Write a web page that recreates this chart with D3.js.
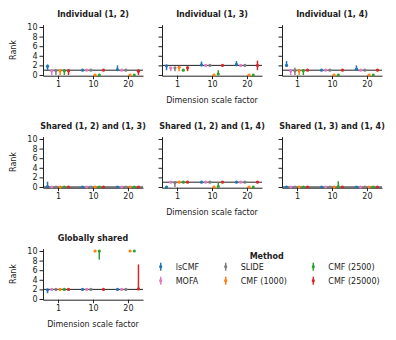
<!DOCTYPE html>
<html><head><meta charset="utf-8">
<script src="https://cdn.jsdelivr.net/npm/d3@7"></script>
<style>body{margin:0;background:#fff} text{font-family:"DejaVu Sans",sans-serif;fill:#222}</style>
</head><body><svg id="c" width="396" height="340"></svg>
<script>
const categories = ["1", "10", "20"];
const methods = ["lsCMF", "MOFA", "SLIDE", "CMF (1000)", "CMF (2500)", "CMF (25000)"];
const colors = ["#1f77b4", "#e377c2", "#7f7f7f", "#ff7f0e", "#2ca02c", "#d62728"];
const panelTitles = ["Individual (1, 2)", "Individual (1, 3)", "Individual (1, 4)",
  "Shared (1, 2) and (1, 3)", "Shared (1, 2) and (1, 4)", "Shared (1, 3) and (1, 4)", "Globally shared"];
const trueRanks = [1, 2, 1, 0, 1, 0, 2];
const yTicks = [0, 2, 4, 6, 8, 10];

// rows: methods, columns: categories
const ind12Mean = [[1.8,1,1.1],[0.9,1,1],[0.9,1,1],[0.9,0,0],[0.9,0,0],[0.9,1,0.8]];
const ind12Lo   = [[1.0,1,0.9],[0,1,1],[0,1,1],[0,0,0],[0,0,0],[0,1,0]];
const ind12Hi   = [[2.2,1,2.0],[1,1,1],[1,1,1],[1,0,0],[1,0,0],[1,1,1.2]];

const ind13Mean = [[1.9,2.1,2.2],[1.5,2,2],[1.5,2,2],[1.6,0,0],[1.0,0.2,0],[1.5,2,2]];
const ind13Lo   = [[1.0,1.8,1.8],[0.8,2,2],[0.8,2,2],[0.8,0,0],[1.0,0,0],[0.8,2,1.0]];
const ind13Hi   = [[2.1,2.8,2.9],[1.6,2,2],[1.6,2,2],[1.8,0,0],[1.0,1.0,0],[1.8,2,3.0]];

const ind14Mean = [[2.0,1,1.2],[0.9,1,1],[0.9,1,1],[0.9,0,0],[0.9,0,0],[1,1,1]];
const ind14Lo   = [[1.8,1,0.9],[0,1,1],[0,1,1],[0,0,0],[0,0,0],[1,1,1]];
const ind14Hi   = [[2.9,1,2.0],[1.2,1,1],[1.5,1,1],[1.1,0,0],[1.1,0,0],[1,1,1]];

const sh1213Mean = [[0.1,0,0],[0,0,0],[0,0,0],[0,0,0],[0,0,0],[0,0,0]];
const sh1213Lo   = [[0,0,0],[0,0,0],[0,0,0],[0,0,0],[0,0,0],[0,0,0]];
const sh1213Hi   = [[1.1,0,0],[0,0,0],[0,0,0],[0,0,0],[0,0,0],[0,0,0]];

const sh1214Mean = [[0,1,1],[1,1,1],[0.9,1,1],[1,0,0],[1,0.1,0],[1,1,1]];
const sh1214Lo   = [[0,1,1],[1,1,1],[0,1,1],[1,0,0],[1,0,0],[1,1,1]];
const sh1214Hi   = [[0,1,1],[1,1,1],[1,1,1],[1,0,0],[1,1,0],[1,1,1]];

const sh1314Mean = [[0,0,0],[0,0,0],[0,0,0],[0,0,0],[0,0.1,0],[0,0,0]];
const sh1314Lo   = [[0,0,0],[0,0,0],[0,0,0],[0,0,0],[0,0,0],[0,0,0]];
const sh1314Hi   = [[0,0,0],[0,0,0],[0,0,0],[0,0,0],[0,1.2,0],[0,0,0]];

const globMean = [[1.9,2,2],[2,2,2],[2,2,2],[2,10,10],[2,10,10],[2,2,2.1]];
const globLo   = [[1.2,2,2],[2,2,2],[2,2,2],[2,10,10],[2,8.2,10],[2,2,2]];
const globHi   = [[2.1,2,2],[2,2,2],[2,2,2],[2,10,10],[2,10,10],[2,2,7.2]];

const panelMeans = [ind12Mean, ind13Mean, ind14Mean, sh1213Mean, sh1214Mean, sh1314Mean, globMean];
const panelLos = [ind12Lo, ind13Lo, ind14Lo, sh1213Lo, sh1214Lo, sh1314Lo, globLo];
const panelHis = [ind12Hi, ind13Hi, ind14Hi, sh1213Hi, sh1214Hi, sh1314Hi, globHi];
const xLabelPanels = [1, 4, 6];

const svg = d3.select("#c");
const colLeft = [43, 162, 282], rowTop = [0, 112, 224];
const W = 100;
const x = d3.scalePoint().domain(categories).range([0, W]).padding(0.43);
const dodge = d3.scalePoint().domain(methods).range([-10.5, 10.5]);
const y = d3.scaleLinear().domain([-0.15, 10.5]).range([75.7, 24.6]);

panelTitles.forEach((title, k) => {
  const col = k % 3, row = Math.floor(k / 3);
  const g = svg.append("g").attr("transform", `translate(${colLeft[col]},${rowTop[row]})`);

  // true rank line
  g.append("line").attr("x1", 0).attr("x2", W)
    .attr("y1", y(trueRanks[k])).attr("y2", y(trueRanks[k]))
    .attr("stroke", "#222").attr("stroke-width", 1);

  const yAx = g.append("g").call(d3.axisLeft(y).tickValues(yTicks).tickSize(3.5).tickSizeOuter(0).tickPadding(2)
    .tickFormat(col === 0 ? d3.format("d") : () => ""));
  const xAx = g.append("g").attr("transform", `translate(0,${y(-0.15)})`)
    .call(d3.axisBottom(x).tickSize(3.5).tickSizeOuter(0).tickPadding(2.5));
  [yAx, xAx].forEach(a => {
    a.selectAll("path,line").attr("stroke", "#222").attr("stroke-width", 1);
    a.selectAll("text").attr("font-size", 8).attr("font-family", "DejaVu Sans").attr("fill", "#222");
  });
  // y domain spine from -0.15 to 10.5 already

  methods.forEach((m, i) => {
    const mg = g.append("g");
    categories.forEach((c, j) => {
      const cx = x(c) + dodge(m);
      mg.append("line").attr("x1", cx).attr("x2", cx)
        .attr("y1", y(panelLos[k][i][j])).attr("y2", y(panelHis[k][i][j]))
        .attr("stroke", colors[i]).attr("stroke-width", 1.5);
      mg.append("circle").attr("cx", cx).attr("cy", y(panelMeans[k][i][j])).attr("r", 1.6)
        .attr("fill", colors[i]);
    });
  });

  g.append("text").attr("x", W / 2).attr("y", 16.5).attr("text-anchor", "middle")
    .attr("font-size", 8).attr("font-weight", "bold").text(title);

  if (col === 0) {
    g.append("text").attr("transform", `translate(${13 - colLeft[0]},50) rotate(-90)`)
      .attr("text-anchor", "middle").attr("dy", "0.35em").attr("font-size", 8).text("Rank");
  }
  if (xLabelPanels.includes(k)) {
    g.append("text").attr("x", W / 2).attr("y", 103).attr("text-anchor", "middle")
      .attr("font-size", 8).text("Dimension scale factor");
  }
});

// legend
const lg = svg.append("g");
lg.append("text").attr("x", 266.7).attr("y", 256).attr("dy", "0.35em").attr("text-anchor", "middle")
  .attr("font-size", 8).attr("font-weight", "bold").text("Method");
const legCols = [160.7, 225.7, 313.3], legRows = [266.7, 280.7];
methods.forEach((m, i) => {
  const cx = legCols[Math.floor(i / 2)], cy = legRows[i % 2];
  lg.append("line").attr("x1", cx).attr("x2", cx).attr("y1", cy - 4).attr("y2", cy + 4)
    .attr("stroke", colors[i]).attr("stroke-width", 1.5);
  lg.append("circle").attr("cx", cx).attr("cy", cy).attr("r", 1.6).attr("fill", colors[i]);
  lg.append("text").attr("x", cx + 15).attr("y", cy).attr("dy", "0.35em").attr("font-size", 8).text(m);
});
</script>
</body></html>
